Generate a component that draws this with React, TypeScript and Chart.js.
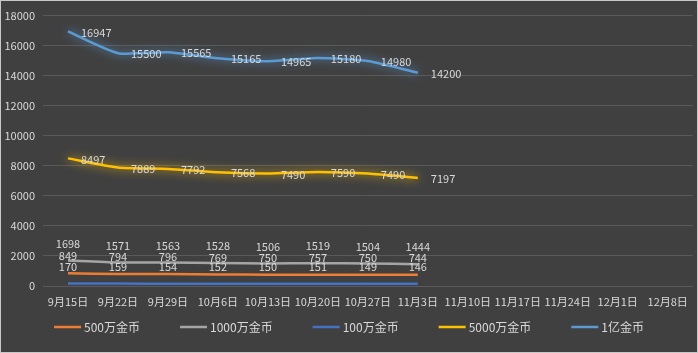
import React, { useEffect, useRef } from "react";
import { Chart, registerables } from "chart.js";

Chart.register(...registerables);

const categories = ["9月15日", "9月22日", "9月29日", "10月6日", "10月13日", "10月20日", "10月27日", "11月3日", "11月10日", "11月17日", "11月24日", "12月1日", "12月8日"];
const s500w = [849, 794, 796, 769, 750, 757, 750, 744];
const s1000w = [1698, 1571, 1563, 1528, 1506, 1519, 1504, 1444];
const s100w = [170, 159, 154, 152, 150, 151, 149, 146];
const s5000w = [8497, 7889, 7792, 7568, 7490, 7590, 7490, 7197];
const s1yi = [16947, 15500, 15565, 15165, 14965, 15180, 14980, 14200];
const seriesNames = ["500万金币", "1000万金币", "100万金币", "5000万金币", "1亿金币"];
const seriesColors = ["#ED7D31", "#A5A5A5", "#4472C4", "#FFC000", "#5B9BD5"];
const labelPos = ["above", "above", "above", "right", "right"];
const glow = [false, false, false, true, true];

const FONT = "'Noto Sans CJK SC', 'Noto Sans', sans-serif";
const TEXT = "#d9d9d9";

export default function App() {
  const ref = useRef<HTMLCanvasElement>(null);
  useEffect(() => {
    document.body.style.margin = "0";
    const values = [s500w, s1000w, s100w, s5000w, s1yi];
    const glowPlugin = {
      id: "glow",
      beforeDatasetDraw(chart: any, args: any) {
        const ctx = chart.ctx;
        ctx.save();
        if (glow[args.index]) {
          ctx.shadowColor = seriesColors[args.index];
          ctx.shadowBlur = 10;
        }
      },
      afterDatasetDraw(chart: any) {
        chart.ctx.restore();
      },
    };
    const labelPlugin = {
      id: "dlabels",
      afterDatasetsDraw(chart: any) {
        const ctx = chart.ctx;
        ctx.save();
        ctx.font = `11px ${FONT}`;
        ctx.fillStyle = TEXT;
        chart.data.datasets.forEach((ds: any, i: number) => {
          const meta = chart.getDatasetMeta(i);
          meta.data.forEach((pt: any, j: number) => {
            const v = ds.data[j];
            if (v == null) return;
            if (labelPos[i] === "right") {
              ctx.textAlign = "left";
              ctx.textBaseline = "middle";
              ctx.fillText(String(v), pt.x + 13, pt.y + 1);
            } else {
              ctx.textAlign = "center";
              ctx.textBaseline = "middle";
              ctx.fillText(String(v), pt.x, pt.y - 17);
            }
          });
        });
        ctx.restore();
      },
    };
    const legendPlugin = {
      id: "mylegend",
      afterDraw(chart: any) {
        const ctx = chart.ctx;
        ctx.save();
        ctx.font = `12px ${FONT}`;
        const y = 326;
        const lineW = 27;
        const gapT = 3;
        const pad = 40;
        const widths = chart.data.datasets.map((ds: any) => lineW + gapT + ctx.measureText(ds.label).width);
        const total = widths.reduce((a: number, b: number) => a + b, 0) + pad * (widths.length - 1);
        let x = (chart.width - total) / 2;
        chart.data.datasets.forEach((ds: any, i: number) => {
          ctx.strokeStyle = ds.borderColor;
          ctx.lineWidth = 2.5;
          ctx.beginPath();
          ctx.moveTo(x, y);
          ctx.lineTo(x + lineW, y);
          ctx.stroke();
          ctx.fillStyle = TEXT;
          ctx.textAlign = "left";
          ctx.textBaseline = "middle";
          ctx.fillText(ds.label, x + lineW + gapT, y);
          x += widths[i] + pad;
        });
        ctx.restore();
      },
    };
    const chart = new Chart(ref.current!, {
      type: "line",
      data: {
        labels: categories,
        datasets: seriesNames.map((n, i) => ({
          label: n,
          data: values[i],
          borderColor: seriesColors[i],
          backgroundColor: seriesColors[i],
          borderWidth: 2.5,
          pointRadius: 0,
          tension: 0.2,
          fill: false,
        })),
      },
      options: {
        animation: false,
        responsive: false,
        layout: { padding: { top: 14, bottom: 34, left: 0, right: 4 } },
        plugins: { legend: { display: false }, tooltip: { enabled: false } },
        scales: {
          x: {
            offset: true,
            grid: { display: false, drawTicks: false },
            border: { display: false },
            ticks: { color: TEXT, font: { family: FONT, size: 11 }, padding: 9, maxRotation: 0, autoSkip: false },
            afterFit: (s: any) => { s.height = 32; },
          },
          y: {
            min: 0,
            max: 18000,
            grid: { color: "#5a5a5a", drawTicks: false, lineWidth: 1 },
            border: { display: false },
            ticks: { stepSize: 2000, color: TEXT, font: { family: FONT, size: 11 }, padding: 8, callback: (v: any) => String(v) },
            afterFit: (s: any) => { s.width = 42; },
          },
        },
      },
      plugins: [glowPlugin, labelPlugin, legendPlugin],
    } as any);
    return () => chart.destroy();
  }, []);
  return (
    <div style={{ width: 698, height: 353, boxSizing: "border-box", border: "1px solid #c8c8c8", background: "#404040" }}>
      <canvas ref={ref} width={696} height={351} style={{ display: "block" }} />
    </div>
  );
}
